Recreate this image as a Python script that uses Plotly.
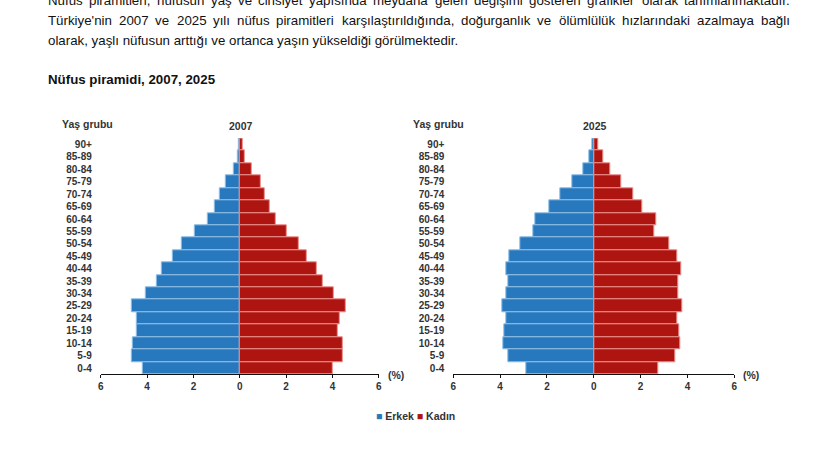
import plotly.graph_objects as go

W, H = 825, 454

age_groups = ["90+", "85-89", "80-84", "75-79", "70-74", "65-69", "60-64", "55-59", "50-54", "45-49",
              "40-44", "35-39", "30-34", "25-29", "20-24", "15-19", "10-14", "5-9", "0-4"]

male_2007 = [0.05, 0.09, 0.27, 0.62, 0.86, 1.09, 1.37, 1.93, 2.49, 2.88,
             3.35, 3.60, 4.07, 4.66, 4.46, 4.46, 4.62, 4.66, 4.20]
female_2007 = [0.13, 0.22, 0.52, 0.91, 1.08, 1.31, 1.55, 2.03, 2.55, 2.89,
               3.34, 3.57, 4.06, 4.56, 4.32, 4.24, 4.45, 4.45, 4.01]
male_2025 = [0.07, 0.19, 0.46, 0.90, 1.41, 1.88, 2.49, 2.60, 3.16, 3.59,
             3.74, 3.67, 3.72, 3.91, 3.72, 3.83, 3.87, 3.67, 2.89]
female_2025 = [0.21, 0.40, 0.71, 1.18, 1.69, 2.05, 2.65, 2.59, 3.23, 3.57,
               3.73, 3.62, 3.62, 3.77, 3.57, 3.66, 3.70, 3.50, 2.76]

x_ticks = [-6, -4, -2, 0, 2, 4, 6]
x_tick_labels = ["6", "4", "2", "0", "2", "4", "6"]

BLUE = "#2878BE"
RED = "#AE1410"
TEXT = "#333333"
FONT = "Liberation Sans"

# justified lines of the paragraph, word and its left edge in pixels
line_1 = [("Nüfus", 48), ("piramitleri,", 89), ("nüfusun", 157), ("yaş", 211), ("ve", 238), ("cinsiyet", 258),
          ("yapısında", 309), ("meydana", 373), ("gelen", 435), ("değişimi", 474), ("gösteren", 529),
          ("grafikler", 587), ("olarak", 642), ("tanımlanmaktadır.", 684)]
line_2 = [("Türkiye'nin", 48), ("2007", 119), ("ve", 155), ("2025", 177), ("yılı", 213), ("nüfus", 237),
          ("piramitleri", 276), ("karşılaştırıldığında,", 342), ("doğurganlık", 461), ("ve", 537),
          ("ölümlülük", 559), ("hızlarındaki", 622), ("azalmaya", 697), ("bağlı", 761)]
line_3 = "olarak, yaşlı nüfusun arttığı ve ortanca yaşın yükseldiği görülmektedir."


def px(x):
    return x / W


def py(y):
    return 1 - y / H


def label(x, y, text, size=13.3, color="#111111", xanchor="left"):
    # plotly pads annotations by about a pixel
    if xanchor == "left":
        x -= 1
    return dict(x=px(x), y=py(y), xref="paper", yref="paper", text=text, showarrow=False,
                xanchor=xanchor, yanchor="middle", align="left", borderpad=0,
                font=dict(family=FONT, size=size, color=color))


def bars(values, color, edge, sign, xaxis, yaxis):
    return go.Bar(x=[sign * v for v in values], y=age_groups, orientation="h", xaxis=xaxis, yaxis=yaxis,
                  marker=dict(color=color, line=dict(color=edge, width=1)), showlegend=False)


fig = go.Figure()
fig.add_trace(bars(male_2007, BLUE, "#8FBEE6", -1, "x", "y"))
fig.add_trace(bars(female_2007, RED, "#EC8F8A", 1, "x", "y"))
fig.add_trace(bars(male_2025, BLUE, "#8FBEE6", -1, "x2", "y2"))
fig.add_trace(bars(female_2025, RED, "#EC8F8A", 1, "x2", "y2"))

tick_font = dict(family=FONT, size=10, color=TEXT, weight="bold")
x_axis = dict(range=[-6, 6], tickmode="array", tickvals=x_ticks, ticktext=x_tick_labels, showgrid=False,
              zeroline=False, showline=True, linecolor="#111111", linewidth=1, ticks="outside", ticklen=3,
              tickcolor="#111111", automargin=False, tickfont=tick_font)
y_axis = dict(range=[18.5, -0.5], type="category", dtick=1, showgrid=False, zeroline=False, showline=False,
              ticks="", ticklabelstandoff=8, automargin=False, tickfont=tick_font)
y_domain = [py(374.3), py(138.3)]

annotations = [label(x, 0, word) for word, x in line_1]
annotations += [label(x, 20, word) for word, x in line_2]
annotations.append(label(48, 40, line_3))
annotations.append(label(48, 79, "<b>Nüfus piramidi, 2007, 2025</b>"))
annotations += [
    label(240.5, 126, "<b>2007</b>", 10.5, TEXT, "center"),
    label(594.5, 126, "<b>2025</b>", 10.5, TEXT, "center"),
    label(62, 124, "<b>Yaş grubu</b>", 10.5, TEXT),
    label(413, 124, "<b>Yaş grubu</b>", 10.5, TEXT),
    label(388, 375, "<b>(%)</b>", 10.5, TEXT),
    label(743, 375, "<b>(%)</b>", 10.5, TEXT),
    label(375.5, 416, f'<span style="color:{BLUE}">■</span><b> Erkek </b>'
                      f'<span style="color:{RED}">■</span><b> Kadın</b>', 10.5, TEXT),
]

fig.update_layout(
    width=W, height=H, margin=dict(l=0, r=0, t=0, b=0), paper_bgcolor="white", plot_bgcolor="white",
    barmode="overlay", bargap=0, annotations=annotations,
    xaxis=dict(x_axis, domain=[px(100.8), px(378.8)], anchor="y"),
    yaxis=dict(y_axis, domain=y_domain, anchor="x"),
    xaxis2=dict(x_axis, domain=[px(453.3), px(734.3)], anchor="y2"),
    yaxis2=dict(y_axis, domain=y_domain, anchor="x2"),
)

fig.write_html("out.html", config=dict(displayModeBar=False),
               post_script="document.body.style.margin='0';document.body.style.overflow='hidden';")
